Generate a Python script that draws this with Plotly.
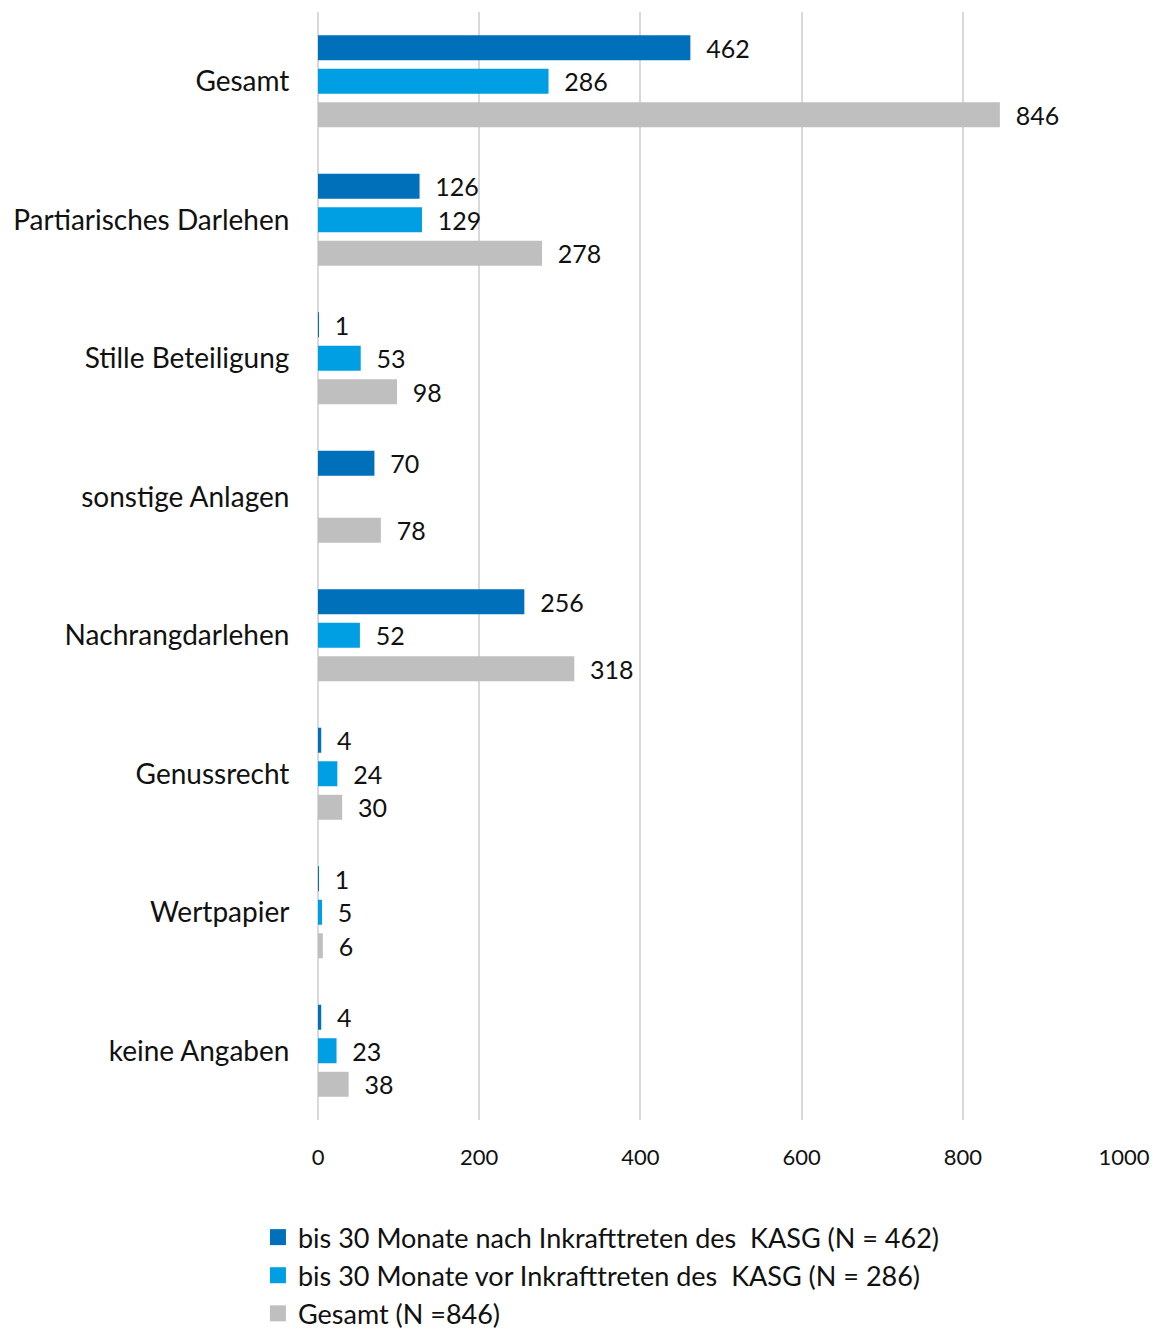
import plotly.graph_objects as go

categories = ["Gesamt", "Partiarisches Darlehen", "Stille Beteiligung", "sonstige Anlagen",
              "Nachrangdarlehen", "Genussrecht", "Wertpapier", "keine Angaben"]
nach_values = [462, 126, 1, 70, 256, 4, 1, 4]
vor_values = [286, 129, 53, None, 52, 24, 5, 23]
gesamt_values = [846, 278, 98, 78, 318, 30, 6, 38]
series_names = ["bis 30 Monate nach Inkrafttreten des  KASG (N = 462)",
                "bis 30 Monate vor Inkrafttreten des  KASG (N = 286)",
                "Gesamt (N =846)"]
colors = ["#0070BA", "#009FE3", "#BFBFBF"]
x_ticks = [0, 200, 400, 600, 800, 1000]

FONT = "Lato"

fig = go.Figure()
for name, vals, col in zip(series_names, [nach_values, vor_values, gesamt_values], colors):
    fig.add_trace(go.Bar(
        y=categories, x=vals, name=name, orientation="h",
        marker=dict(color=col, line=dict(width=0)),
        text=[None if v is None else f"  {v}" for v in vals],
        textposition="outside", cliponaxis=False, constraintext="none",
        textfont=dict(family=FONT, size=25, color="#111111"),
        showlegend=False,
    ))
# legend entries with larger square markers
for name, col in zip(series_names, colors):
    fig.add_trace(go.Scatter(
        x=[None], y=[None], mode="markers", name=name,
        marker=dict(symbol="square", size=16, color=col),
        showlegend=True,
    ))

fig.update_layout(
    width=1159, height=1331,
    paper_bgcolor="white", plot_bgcolor="white",
    margin=dict(l=318, r=35, t=12, b=211, autoexpand=False),
    barmode="group", bargap=0.274, bargroupgap=0.254,
    font=dict(family=FONT, size=24, color="#111111"),
    showlegend=True,
    legend=dict(orientation="v", x=-0.0745, xanchor="left", y=-0.084, yanchor="top",
                font=dict(family=FONT, size=27, color="#111111"),
                traceorder="normal", itemwidth=30, tracegroupgap=0, itemsizing="trace",
                bgcolor="rgba(0,0,0,0)"),
    xaxis=dict(range=[0, 1000], tickvals=x_ticks, ticktext=[str(t) for t in x_ticks],
               showgrid=True, gridcolor="#D9D9D9", gridwidth=2,
               zeroline=True, zerolinecolor="#D9D9D9", zerolinewidth=2,
               showline=False, ticks="outside", ticklen=18, tickcolor="rgba(0,0,0,0)",
               automargin=False,
               tickfont=dict(family=FONT, size=22, color="#111111")),
    yaxis=dict(autorange="reversed", showgrid=False, showline=False, zeroline=False,
               ticks="outside", ticklen=22, tickcolor="rgba(0,0,0,0)", automargin=False,
               tickfont=dict(family=FONT, size=28, color="#111111")),
)

fig.write_html("out.html", config={"displayModeBar": False},
               post_script="document.body.style.margin='0';document.body.style.overflow='hidden';")
